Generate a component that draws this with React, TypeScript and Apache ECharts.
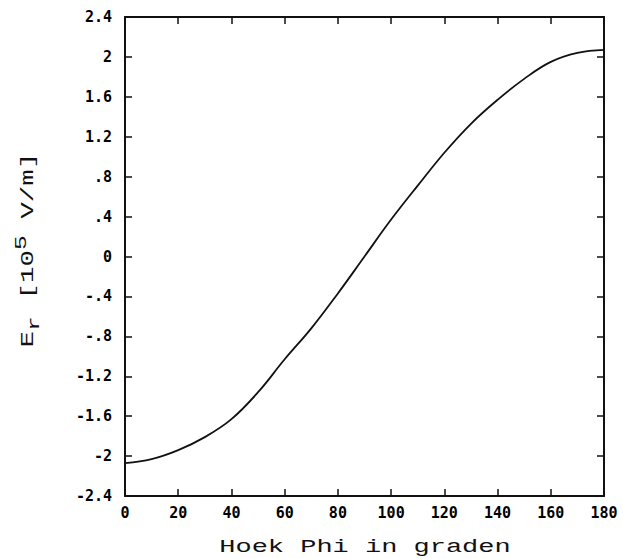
import React, { useEffect, useRef } from "react";
import * as echarts from "echarts";

const phiDeg = [0, 10, 20, 30, 40, 50, 60, 70, 80, 90, 100, 110, 120, 130, 140, 150, 160, 170, 180];
const erValues = [-2.07, -2.03, -1.94, -1.81, -1.63, -1.36, -1.03, -0.72, -0.37, 0.0, 0.37, 0.71, 1.04, 1.33, 1.57, 1.78, 1.95, 2.04, 2.07];
const yMin = -2.4;
const yMax = 2.4;
const yStep = 0.4;

const xTitle = "Hoek Phi in graden";

function fmtY(v: number): string {
  let s = (Math.round(v * 10) / 10).toFixed(1);
  if (s.endsWith(".0")) s = s.slice(0, -2);
  if (s === "-0") s = "0";
  s = s.replace(/^0\./, ".").replace(/^-0\./, "-.");
  return s;
}

export default function App() {
  const ref = useRef<HTMLDivElement>(null);
  useEffect(() => {
    if (!ref.current) return;
    const chart = echarts.init(ref.current, undefined, { renderer: "svg" });
    const ink = "#111";
    const titleFont = "Liberation Mono";
    const tickFont = "DejaVu Sans Mono";
    chart.setOption({
      animation: false,
      backgroundColor: "#fff",
      grid: { left: 125, right: 19, top: 17, bottom: 63, containLabel: false },
      xAxis: [
        {
          type: "value", position: "bottom", min: 0, max: 180, interval: 20,
          axisLine: { show: true, onZero: false, lineStyle: { color: ink, width: 2 } },
          axisTick: { show: true, inside: true, length: 7, lineStyle: { color: ink, width: 1.5 } },
          splitLine: { show: false },
          axisLabel: { show: true, margin: 9, fontSize: 15, fontFamily: tickFont, color: "#000", fontWeight: "bold" },
        },
        {
          type: "value", position: "top", min: 0, max: 180, interval: 20,
          axisLine: { show: true, onZero: false, lineStyle: { color: ink, width: 2 } },
          axisTick: { show: true, inside: true, length: 7, lineStyle: { color: ink, width: 1.5 } },
          splitLine: { show: false }, axisLabel: { show: false },
        },
      ],
      yAxis: [
        {
          type: "value", position: "left", min: yMin, max: yMax, interval: yStep,
          axisLine: { show: true, onZero: false, lineStyle: { color: ink, width: 2 } },
          axisTick: { show: true, inside: true, length: 7, lineStyle: { color: ink, width: 1.5 } },
          splitLine: { show: false },
          axisLabel: { show: true, margin: 13, fontSize: 15, fontFamily: tickFont, color: "#000", fontWeight: "bold", formatter: (v: number) => fmtY(v) },
        },
        {
          type: "value", position: "right", min: yMin, max: yMax, interval: yStep,
          axisLine: { show: true, onZero: false, lineStyle: { color: ink, width: 2 } },
          axisTick: { show: true, inside: true, length: 7, lineStyle: { color: ink, width: 1.5 } },
          splitLine: { show: false }, axisLabel: { show: false },
        },
      ],
      series: [
        {
          type: "line",
          xAxisIndex: 0,
          yAxisIndex: 0,
          data: phiDeg.map((p, i) => [p, erValues[i]]),
          smooth: 0.4,
          showSymbol: false,
          lineStyle: { color: ink, width: 1.8 },
        },
      ],
      graphic: [
        {
          type: "text",
          x: 365,
          y: 547,
          scaleX: 1.42,
          style: {
            text: xTitle,
            fontFamily: titleFont,
            fontSize: 19,
            fill: ink,
            align: "center",
            verticalAlign: "middle",
          },
        },
        {
          type: "text",
          x: 28,
          y: 250,
          rotation: Math.PI / 2,
          scaleX: 1.45,
          style: {
            text: "{n|E}{sub|r}{n| [10}{sup|5}{n| V/m]}",
            align: "center",
            verticalAlign: "middle",
            rich: {
              n: { fontFamily: titleFont, fontSize: 19, fill: ink, lineHeight: 30, verticalAlign: "middle" },
              sub: { fontFamily: titleFont, fontSize: 17, fill: ink, lineHeight: 14, verticalAlign: "bottom" },
              sup: { fontFamily: titleFont, fontSize: 17, fill: ink, lineHeight: 14, verticalAlign: "top" },
            },
          },
        },
      ],
    });
    return () => chart.dispose();
  }, []);
  return <div ref={ref} style={{ width: 623, height: 559, position: "absolute", left: 0, top: 0 }} />;
}
